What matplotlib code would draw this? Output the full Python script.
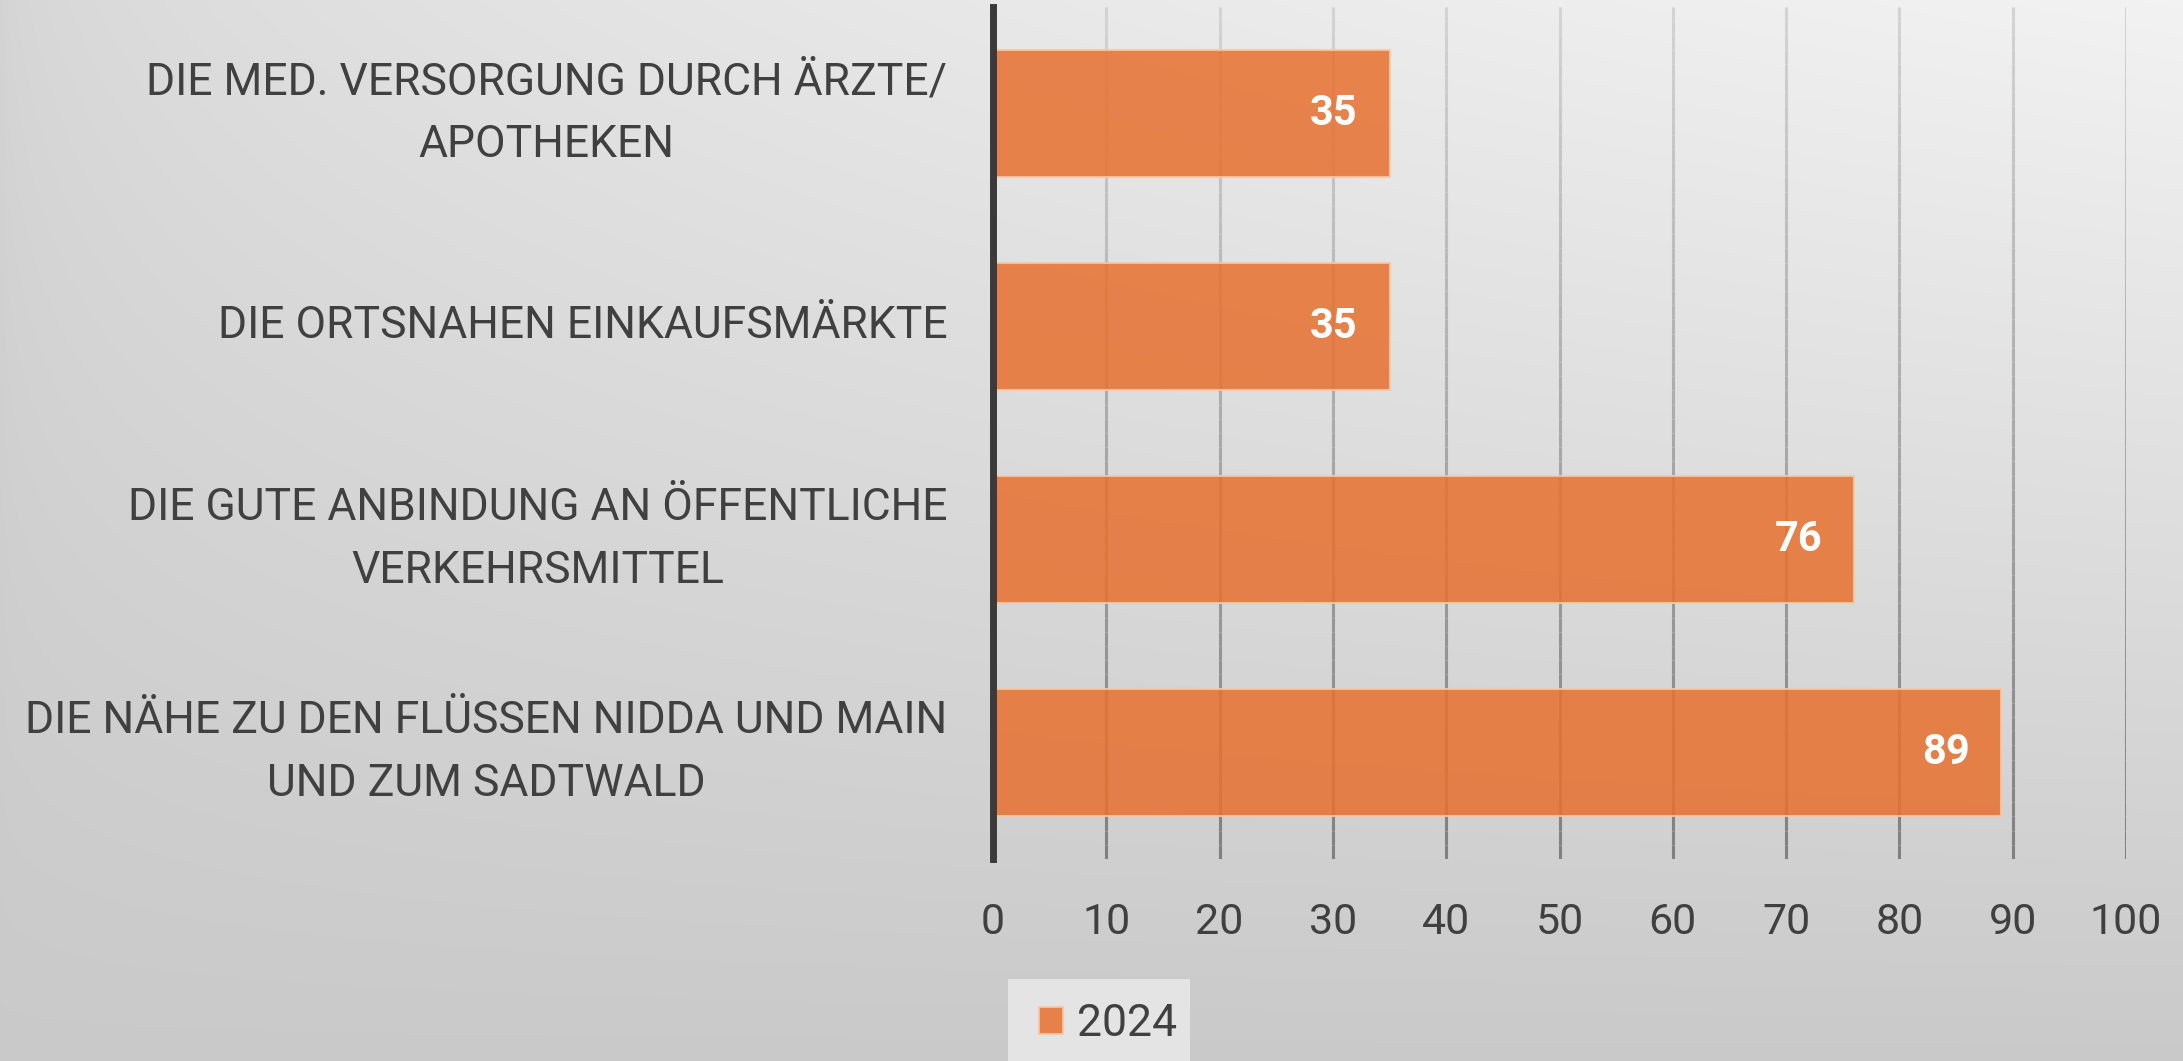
import numpy as np
import matplotlib
matplotlib.use("Agg")
import matplotlib.pyplot as plt
from matplotlib.collections import LineCollection
from matplotlib.patches import Rectangle

categories = [
    "DIE MED. VERSORGUNG DURCH ÄRZTE/\nAPOTHEKEN",
    "DIE ORTSNAHEN EINKAUFSMÄRKTE",
    "DIE GUTE ANBINDUNG AN ÖFFENTLICHE\nVERKEHRSMITTEL",
    "DIE NÄHE ZU DEN FLÜSSEN NIDDA UND MAIN\nUND ZUM SADTWALD",
]
values_2024 = [35, 35, 76, 89]
series_name = "2024"
x_ticks = [0, 10, 20, 30, 40, 50, 60, 70, 80, 90, 100]

FONT = ["Roboto", "DejaVu Sans"]
plt.rcParams["font.family"] = FONT
TXT = "#404040"

W, H = 2183, 1061
fig = plt.figure(figsize=(W / 100, H / 100), dpi=100)

# background gradient
bg = fig.add_axes([0, 0, 1, 1], zorder=-10)
yy, xx = np.mgrid[0:1:200j, 0:1:400j]  # yy: 0 top -> 1 bottom
top = 0.83 + 0.12 * np.sqrt(xx)
bot = 0.79 + 0.0 * xx
val = top * (1 - yy) + bot * yy
bg.imshow(np.dstack([val, val, val]), aspect="auto", extent=[0, 1, 0, 1],
          interpolation="bilinear")
bg.set_axis_off()

ax = fig.add_axes([993 / W, 1 - 859 / H, (2126 - 993) / W, (859 - 7) / H])
ax.patch.set_alpha(0)

ypos = np.arange(len(categories))

# gradient gridlines
n = 60
ys = np.linspace(0, 1, n + 1)
for t in x_ticks[1:]:
    segs = [[(t, ys[i]), (t, ys[i + 1])] for i in range(n)]
    g = 0.83 - 0.33 * (1 - (ys[:-1] + ys[1:]) / 2)
    cols = [(c, c, c) for c in g]
    lc = LineCollection(segs, colors=cols, linewidths=2.2,
                        transform=ax.get_xaxis_transform(), zorder=1)
    ax.add_collection(lc)

bars = ax.barh(ypos, values_2024, height=0.6, color="#e77131", alpha=0.86,
               edgecolor="#f8c7a6", linewidth=1.5, zorder=2, label=series_name)
for b, v in zip(bars, values_2024):
    ax.annotate(f"{v}", xy=(v, b.get_y() + b.get_height() / 2),
                xytext=(-23, 0), textcoords="offset points",
                ha="right", va="center", color="white", fontsize=30,
                fontweight="bold", zorder=4)

ax.set_xlim(0, 100)
ax.set_ylim(len(categories) - 0.5, -0.5)
ax.set_xticks(x_ticks)
ax.set_xticklabels([str(t) for t in x_ticks])
ax.set_yticks(ypos)
ax.set_yticklabels(categories, multialignment="center", linespacing=1.62,
                   va="center")
ax.tick_params(axis="x", length=0, pad=31, labelsize=31, labelcolor=TXT)
ax.tick_params(axis="y", length=0, pad=33, labelsize=32, labelcolor=TXT)

for s in ["top", "right", "bottom"]:
    ax.spines[s].set_visible(False)
ax.spines["left"].set_color("#3a3a3a")
ax.spines["left"].set_linewidth(5)
ax.spines["left"].set_zorder(5)

# legend box
fig.patches.append(Rectangle((1008 / W, 0), (1190 - 1008) / W, (1061 - 979) / H,
                             transform=fig.transFigure, facecolor="#e4e4e4",
                             edgecolor="none", zorder=0))
leg = fig.legend(handles=[bars], labels=[series_name], loc="center",
                 bbox_to_anchor=(1108 / W, 1 - 1024 / H), frameon=False,
                 fontsize=32, handlelength=0.55, handleheight=0.55,
                 handletextpad=0.3, borderpad=0, borderaxespad=0)
for t in leg.get_texts():
    t.set_color(TXT)

fig.savefig("out.png", dpi=100)
